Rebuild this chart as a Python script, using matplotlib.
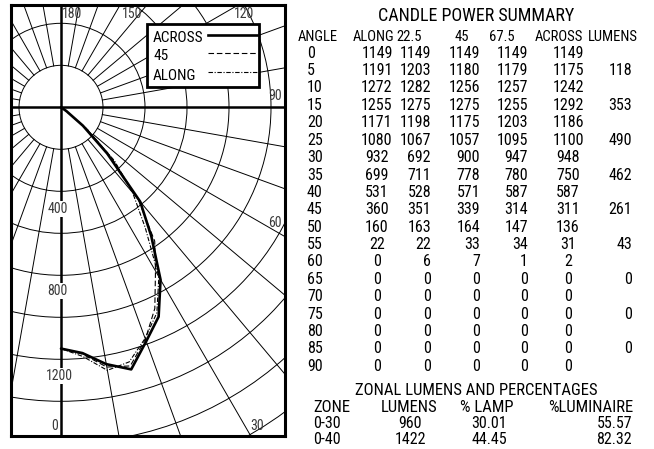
import matplotlib.pyplot as plt
import numpy as np
from matplotlib.lines import Line2D
from matplotlib.patches import Circle, Rectangle

plt.rcParams['font.family'] = ['Roboto Condensed', 'DejaVu Sans']

# candle power summary (cd)
angles = [0, 5, 10, 15, 20, 25, 30, 35, 40, 45, 50, 55, 60, 65, 70, 75, 80, 85, 90]
along = [1149, 1191, 1272, 1255, 1171, 1080, 932, 699, 531, 360, 160, 22, 0, 0, 0, 0, 0, 0, 0]
cp_225 = [1149, 1203, 1282, 1275, 1198, 1067, 692, 711, 528, 351, 163, 22, 6, 0, 0, 0, 0, 0, 0]
cp_45 = [1149, 1180, 1256, 1275, 1175, 1057, 900, 778, 571, 339, 164, 33, 7, 0, 0, 0, 0, 0, 0]
cp_675 = [1149, 1179, 1257, 1255, 1203, 1095, 947, 780, 587, 314, 147, 34, 1, 0, 0, 0, 0, 0, 0]
across = [1149, 1175, 1242, 1292, 1186, 1100, 948, 750, 587, 311, 136, 31, 2, 0, 0, 0, 0, 0, 0]
lumens = ["", 118, "", 353, "", 490, "", 462, "", 261, "", 43, "", 0, "", 0, "", 0, ""]

# zonal lumens and percentages
zones = ["0-30", "0-40"]
zone_lumens = [960, 1422]
pct_lamp = ["30.01", "44.45"]
pct_luminaire = ["55.57", "82.32"]

ring_labels = ["400", "800", "1200", "0"]
angle_labels = ["180", "150", "120", "90", "60", "30"]

W, H = 654, 449
CX, CY, S = 61.0, 107.3, 0.21  # polar centre in pixels, pixels per cd


def fx(px):
    return px / W


def fy(py):
    return 1 - py / H


fig = plt.figure(figsize=(W / 100, H / 100), dpi=100)
ax = fig.add_axes([fx(10.5), fy(436), (284.5 - 10.5) / W, (436 - 5) / H])
ax.set_xlim(-(CX - 10.5) / S, (284.5 - CX) / S)
ax.set_ylim(-(436 - CY) / S, (CY - 5) / S)
ax.set_xticks([])
ax.set_yticks([])
for sp in ax.spines.values():
    sp.set_linewidth(2.2)

# polar grid
for r in np.arange(200, 2200, 200):
    ax.add_patch(Circle((0, 0), r, fill=False, lw=0.7, ec="black"))
for a in range(0, 360, 10):
    t = np.radians(a)
    ax.plot([200 * np.sin(t), 3000 * np.sin(t)],
            [-200 * np.cos(t), -3000 * np.cos(t)], color="black", lw=0.7)
ax.axhline(0, color="black", lw=1.8)
ax.axvline(0, color="black", lw=1.8)

# distribution curves
th = np.radians(angles)
styles = [
    (along, dict(lw=0.8, ls=(0, (4, 1.5, 1, 1.5)))),
    (cp_45, dict(lw=0.8, ls=(0, (5, 2.5)))),
    (across, dict(lw=1.9, ls="-")),
]
for vals, st in styles:
    r = np.array(vals, dtype=float)
    ax.plot(r * np.sin(th), -r * np.cos(th), color="black",
            solid_capstyle="round", solid_joinstyle="round", zorder=5, **st)

# grid labels
gray = "#3a3a3a"
for lab, x, y in zip(ring_labels, [58, 57, 59, 58], [213, 295, 380, 430]):
    if lab == "0":
        fig.text(fx(x), fy(y), lab, ha="right", va="baseline", fontsize=10, color=gray)
    else:
        fig.text(fx(x), fy(y), lab, ha="center", va="baseline", fontsize=10, color=gray,
                 bbox=dict(fc="white", ec="none", pad=0.5))
for lab, x, y in zip(angle_labels, [62, 122, 234, 268, 268, 250], [18, 18, 18, 100, 227, 430]):
    fig.text(fx(x), fy(y), lab, ha="left", va="baseline", fontsize=10, color=gray)

# legend box
fig.add_artist(Rectangle((fx(147.3), fy(87.3)), (259.3 - 147.3) / W, (87.3 - 24) / H,
                         transform=fig.transFigure, fc="white", ec="black", lw=2.0, zorder=6))
for (lab, y_txt, y_line), (_, st) in zip(
        [("ACROSS", 41.7, 35), ("45", 60, 52.7), ("ALONG", 80, 71.7)],
        [styles[2], styles[1], styles[0]]):
    fig.text(fx(153), fy(y_txt), lab, ha="left", va="baseline", fontsize=11, zorder=7)
    fig.add_artist(Line2D([fx(208), fx(257)], [fy(y_line), fy(y_line)],
                          transform=fig.transFigure, color="black", zorder=7, **st))

# candle power table
fs = 11.5
fig.text(fx(476), fy(20.7), "CANDLE POWER SUMMARY", ha="center", va="baseline", fontsize=13)
headers = ["ANGLE", "ALONG", "22.5", "45", "67.5", "ACROSS", "LUMENS"]
hx = [298, 374, 409.5, 462, 502, 558.5, 613]
ha_h = ["left", "center", "center", "center", "center", "center", "center"]
for h, x, a in zip(headers, hx, ha_h):
    fig.text(fx(x), fy(40.7), h, ha=a, va="baseline", fontsize=10.5)

cols = [angles, along, cp_225, cp_45, cp_675, across, lumens]
cx = [307, 377, 431, 480, 528, 568, 632]
ca = ["left", "center", "right", "right", "right", "center", "right"]
for i in range(len(angles)):
    y = 57.7 + 17.4 * i
    for col, x, a in zip(cols, cx, ca):
        fig.text(fx(x), fy(y), str(col[i]), ha=a, va="baseline", fontsize=fs)

fig.text(fx(476), fy(395), "ZONAL LUMENS AND PERCENTAGES", ha="center", va="baseline", fontsize=12)
for h, x, a in zip(["ZONE", "LUMENS", "% LAMP", "%LUMINAIRE"], [313, 409, 487, 633],
                   ["left", "center", "center", "right"]):
    fig.text(fx(x), fy(411.7), h, ha=a, va="baseline", fontsize=12)
for i, y in enumerate([427.7, 444]):
    fig.text(fx(313), fy(y), zones[i], ha="left", va="baseline", fontsize=fs)
    fig.text(fx(410), fy(y), str(zone_lumens[i]), ha="center", va="baseline", fontsize=fs)
    fig.text(fx(489), fy(y), pct_lamp[i], ha="center", va="baseline", fontsize=fs)
    fig.text(fx(632), fy(y), pct_luminaire[i], ha="right", va="baseline", fontsize=fs)

fig.savefig("out.png", dpi=100)
